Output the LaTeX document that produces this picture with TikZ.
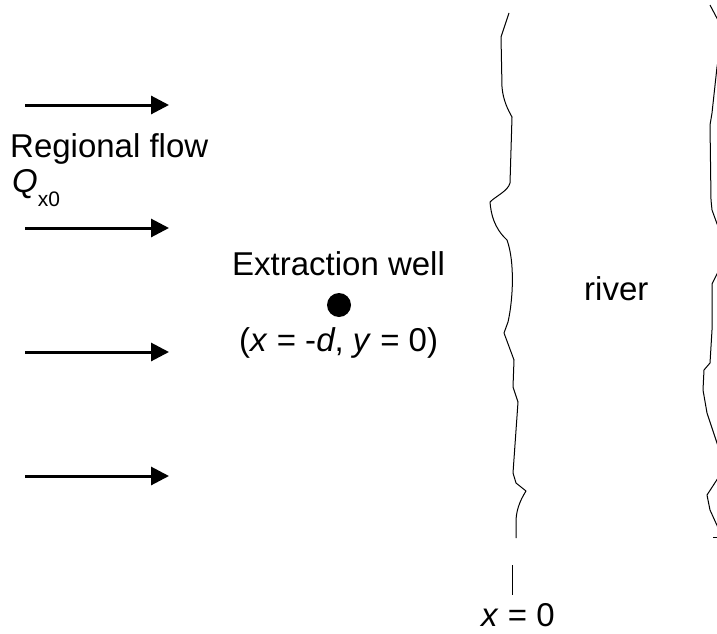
\documentclass[tikz,border=0pt]{standalone}
\usepackage{fontspec}
\setmainfont{Liberation Sans}
\usetikzlibrary{arrows.meta}
\begin{document}
\begin{tikzpicture}[x=1pt,y=-1pt,
  flow/.style={line width=3pt,-{Triangle[length=18pt,width=18pt]}},
  bank/.style={line width=1pt,line join=round},
  lbl/.style={inner sep=0pt,anchor=base west,font=\fontsize{33}{39}\selectfont}]
\useasboundingbox (0,0) rectangle (717,634);
% regional flow arrows
\foreach \i/\y in {1/105,2/228,3/352,4/476}{
  \coordinate (s\i) at (25,\y);
  \coordinate (e\i) at (169,\y);
  \draw[flow] (s\i) -- (e\i);
}
\node[lbl] (reg) at (10,157) {Regional flow};
\node[lbl] (q) at (12,192) {{\itshape Q}\raisebox{-0.45em}{\fontsize{21}{24}\selectfont x0}};
% well
\node[lbl] (wl) at (232,275) {Extraction well};
\node[circle,fill=black,minimum size=24pt,inner sep=0pt] (well) at (339,305) {};
\node[lbl] (wc) at (239,351) {(\textit{x} = -\textit{d}, \textit{y} = 0)};
\node[lbl] (riv) at (584,300) {river};
\node[lbl] (x0) at (481,626) {\textit{x} = 0};
% river banks
\begin{scope}
\clip (0,0) rectangle (717,634);
\draw[bank] (509,13) -- (501,37) -- (502,87) .. controls (503,100) and (508,110) .. (512,117)
  -- (510,183) .. controls (508,191) and (496,196) .. (490,202)
  .. controls (491,214) and (494,228) .. (507,240)
  .. controls (515,262) and (513,300) .. (508,322) -- (504,333) -- (514,360) -- (513,387) -- (518,402)
  -- (513,473) -- (516,483) -- (526,491) .. controls (519,502) and (516,512) .. (516,522) -- (516,538);
\coordinate (t1) at (512,565);
\coordinate (t2) at (512,595);
\draw[bank] (t1) -- (t2);
\draw[bank] (710,5) -- (720,24);
\draw[bank] (719,55) -- (717,67) -- (712,113) -- (710,125) -- (711,200) -- (712,210) -- (720,232);
\draw[bank] (720,268) -- (712,284) -- (712,330) -- (710,363) -- (704,370) -- (703,390) -- (707,413) -- (720,452);
\draw[bank] (720,475) -- (707,495) -- (710,510) -- (720,532);
\draw[bank] (713,537) -- (720,537);
\end{scope}
\end{tikzpicture}
\end{document}
